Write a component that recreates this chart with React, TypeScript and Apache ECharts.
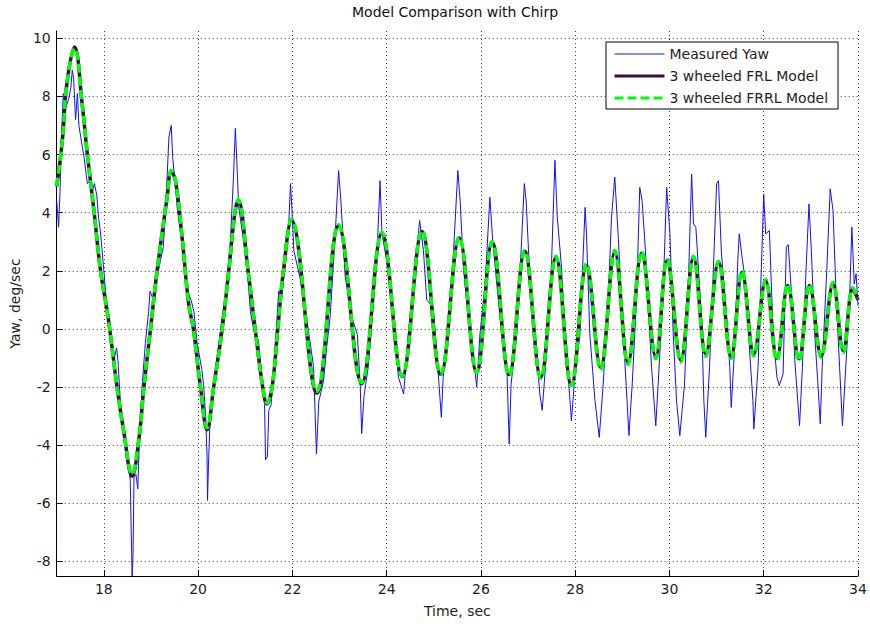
import React, { useEffect, useRef } from "react";
import * as echarts from "echarts";

const xTickValues = [18, 20, 22, 24, 26, 28, 30, 32, 34];
const yTickValues = [-8, -6, -4, -2, 0, 2, 4, 6, 8, 10];

const measuredTime = [
  17.0, 17.04, 17.07, 17.1, 17.14, 17.19, 17.26, 17.3, 17.33, 17.36, 17.4, 17.44, 17.47, 17.51, 17.58, 17.65, 17.7, 17.75, 17.8, 17.85,
  17.89, 17.93, 18.0, 18.08, 18.15, 18.2, 18.27, 18.3, 18.35, 18.45, 18.52, 18.56, 18.58, 18.6, 18.62, 18.64, 18.68, 18.72, 18.76, 18.82,
  18.88, 18.95, 18.98, 19.05, 19.12, 19.2, 19.26, 19.3, 19.35, 19.38, 19.43, 19.46, 19.52, 19.56, 19.66, 19.77, 19.85, 19.91, 19.98, 20.08,
  20.12, 20.16, 20.19, 20.2, 20.22, 20.25, 20.32, 20.4, 20.44, 20.5, 20.58, 20.68, 20.75, 20.79, 20.83, 20.86, 20.95, 21.04, 21.11, 21.18,
  21.28, 21.34, 21.41, 21.43, 21.47, 21.5, 21.55, 21.64, 21.71, 21.75, 21.85, 21.92, 21.96, 22.0, 22.03, 22.17, 22.34, 22.45, 22.51, 22.56,
  22.66, 22.73, 22.8, 22.91, 22.98, 23.03, 23.12, 23.26, 23.38, 23.44, 23.47, 23.52, 23.61, 23.72, 23.79, 23.86, 23.9, 24.0, 24.11, 24.18,
  24.25, 24.36, 24.46, 24.57, 24.7, 24.78, 24.85, 24.99, 25.06, 25.16, 25.2, 25.31, 25.42, 25.51, 25.56, 25.63, 25.73, 25.84, 25.91, 25.98,
  26.09, 26.19, 26.25, 26.33, 26.44, 26.55, 26.6, 26.64, 26.76, 26.86, 26.92, 26.96, 27.04, 27.15, 27.25, 27.3, 27.39, 27.5, 27.57, 27.62,
  27.71, 27.78, 27.89, 27.92, 27.98, 28.1, 28.21, 28.24, 28.31, 28.42, 28.51, 28.59, 28.7, 28.77, 28.84, 28.91, 29.02, 29.1, 29.14, 29.21,
  29.3, 29.37, 29.42, 29.49, 29.62, 29.71, 29.76, 29.86, 29.94, 30.01, 30.08, 30.15, 30.22, 30.32, 30.39, 30.47, 30.51, 30.56, 30.68, 30.73,
  30.77, 30.85, 30.92, 31.0, 31.04, 31.1, 31.21, 31.28, 31.31, 31.38, 31.45, 31.48, 31.55, 31.63, 31.7, 31.77, 31.79, 31.88, 31.95, 32.0,
  32.04, 32.12, 32.2, 32.28, 32.33, 32.41, 32.48, 32.52, 32.59, 32.66, 32.76, 32.82, 32.9, 32.96, 33.01, 33.08, 33.15, 33.2, 33.24, 33.34,
  33.41, 33.47, 33.54, 33.61, 33.67, 33.72, 33.82, 33.87, 33.92, 33.96, 34.0,
];
const measuredYaw = [
  4.4, 3.5, 4.7, 6.6, 8.1, 7.6, 7.95, 8.3, 8.9, 8.6, 7.2, 8.1, 7.0, 6.6, 5.9, 5.0, 5.1, 4.7, 5.0, 4.6,
  3.8, 3.3, 2.0, 0.4, -0.4, -1.2, -0.65, -1.1, -2.5, -3.8, -4.6, -5.2, -6.9, -8.5, -7.7, -5.1, -5.0, -5.5, -3.5, -1.8,
  -0.5, 0.6, 1.3, 1.0, 1.7, 2.35, 2.8, 3.8, 5.5, 6.6, 7.0, 5.9, 4.9, 4.1, 2.9, 1.3, 1.0, 0.6, -0.5, -1.4,
  -2.0, -3.0, -4.4, -5.9, -4.65, -3.3, -2.2, -1.0, -0.5, 0.3, 1.1, 2.9, 5.2, 6.9, 5.45, 4.2, 3.2, 2.1, 0.6, -0.06,
  -0.4, -1.4, -2.6, -4.5, -4.4, -2.8, -2.6, -0.5, 1.3, 0.8, 2.2, 3.5, 5.0, 3.8, 2.7, 1.7, -0.06, -1.3, -4.3, -2.5,
  -1.8, -0.6, 0.4, 3.3, 5.45, 4.4, 1.8, 0.4, -0.2, -2.0, -3.6, -2.3, -1.3, 1.0, 2.35, 5.1, 3.3, 2.35, 1.0, -0.4,
  -1.66, -2.24, -0.17, 1.55, 3.73, 2.7, 1.0, 0.74, -0.75, -3.04, -1.66, 0.06, 2.7, 5.45, 4.4, 2.1, 0.4, -0.86, -2.0, -0.17,
  1.55, 4.53, 3.04, 1.66, -0.17, -1.32, -3.96, -1.9, -0.17, 2.92, 5.0, 4.4, 1.66, -0.17, -2.24, -2.8, -0.86, 2.35, 5.8, 3.84,
  2.12, -0.17, -2.47, -3.16, -1.89, -0.17, 4.18, 3.27, -0.17, -2.47, -3.73, -2.0, 0.97, 3.84, 5.22, 3.27, -0.17, -2.47, -3.67, -1.89,
  0.97, 4.87, 4.41, 2.69, -1.32, -3.33, -1.9, 0.97, 4.87, 3.27, -0.17, -2.47, -3.67, -1.89, 0.97, 5.33, 3.61, 3.5, 0.4, -2.47,
  -3.73, -1.32, 1.55, 5.0, 5.1, 2.69, 0.4, -1.32, -2.7, -0.75, 2.35, 3.27, 2.35, 1.43, -0.75, -2.47, -3.44, -1.32, 2.12, 4.64,
  3.27, 3.38, -0.17, -1.66, -1.95, -1.55, 2.81, 2.9, 1.2, -1.09, -3.33, -1.32, 2.12, 4.3, 2.7, -0.17, -1.89, -3.27, -1.32, 2.12,
  4.82, 4.07, 0.97, -1.32, -3.33, -1.9, 0.97, 3.5, 1.55, 1.9, 0.8,
];

const frlTime = [
  17.0, 17.12, 17.22, 17.38, 17.54, 17.65, 17.79, 17.93, 18.09, 18.28, 18.42, 18.6, 18.74, 18.85, 18.99, 19.13, 19.34, 19.43, 19.52, 19.66,
  19.8, 19.9, 20.05, 20.19, 20.33, 20.51, 20.65, 20.78, 20.85, 21.06, 21.21, 21.37, 21.46, 21.57, 21.69, 21.81, 21.98, 22.52, 22.98, 23.47,
  23.9, 24.33, 24.75, 25.15, 25.54, 25.91, 26.24, 26.6, 26.93, 27.27, 27.59, 27.92, 28.24, 28.54, 28.84, 29.12, 29.41, 29.71, 29.95, 30.24,
  30.51, 30.77, 31.04, 31.31, 31.54, 31.79, 32.04, 32.28, 32.51, 32.75, 32.97, 33.22, 33.47, 33.69, 33.89, 34.0,
];
const frlYaw = [
  4.9, 6.5, 8.5, 9.7, 7.74, 6.0, 4.07, 2.0, 0.4, -2.0, -3.5, -5.07, -3.84, -2.0, 0.0, 2.0, 4.5, 5.41, 5.1, 3.15,
  0.86, 0.0, -2.0, -3.47, -2.0, 0.0, 2.0, 4.0, 4.43, 2.0, 0.0, -2.0, -2.58, -2.0, 0.0, 2.0, 3.75, -2.21, 3.55, -1.89,
  3.3, -1.64, 3.35, -1.57, 3.13, -1.49, 2.98, -1.57, 2.67, -1.66, 2.46, -1.92, 2.18, -1.32, 2.64, -1.15, 2.6, -0.95, 2.35, -1.07,
  2.46, -0.86, 2.29, -0.95, 1.95, -0.86, 1.66, -1.01, 1.49, -1.03, 1.49, -0.92, 1.55, -0.75, 1.38, 1.0,
];

const frrlTime = [
  17.0, 17.12, 17.22, 17.38, 17.54, 17.65, 17.79, 17.93, 18.09, 18.28, 18.42, 18.6, 18.74, 18.85, 18.99, 19.13, 19.34, 19.43, 19.52, 19.66,
  19.8, 19.9, 20.05, 20.19, 20.33, 20.51, 20.65, 20.78, 20.85, 21.06, 21.21, 21.37, 21.46, 21.57, 21.69, 21.81, 21.98, 22.52, 22.98, 23.47,
  23.9, 24.33, 24.75, 25.15, 25.54, 25.91, 26.24, 26.6, 26.93, 27.27, 27.59, 27.92, 28.24, 28.54, 28.84, 29.12, 29.41, 29.71, 29.95, 30.24,
  30.51, 30.77, 31.04, 31.31, 31.54, 31.79, 32.04, 32.28, 32.51, 32.75, 32.97, 33.22, 33.47, 33.69, 33.89, 34.0,
];
const frrlYaw = [
  4.9, 6.5, 8.5, 9.65, 7.74, 6.0, 4.07, 2.0, 0.4, -2.0, -3.5, -5.0, -3.84, -2.0, 0.0, 2.0, 4.5, 5.45, 5.1, 3.15,
  0.86, 0.0, -2.0, -3.4, -2.0, 0.0, 2.0, 4.0, 4.45, 2.0, 0.0, -2.0, -2.55, -2.0, 0.0, 2.0, 3.78, -2.15, 3.58, -1.85,
  3.33, -1.62, 3.38, -1.55, 3.16, -1.5, 3.0, -1.6, 2.7, -1.7, 2.5, -1.95, 2.24, -1.4, 2.7, -1.22, 2.66, -1.02, 2.4, -1.14,
  2.5, -0.94, 2.33, -1.02, 2.0, -0.93, 1.7, -1.08, 1.54, -1.1, 1.54, -0.98, 1.6, -0.82, 1.42, 1.05,
];

const FONT = "DejaVu Sans";
const TEXT_COLOR = "#1e1e1e";

function pairs(t: number[], v: number[]) {
  return t.map((x, i) => [x, v[i]]);
}

export default function App() {
  const ref = useRef<HTMLDivElement>(null);

  useEffect(() => {
    if (!ref.current) return;
    const chart = echarts.init(ref.current, null, { renderer: "svg" });
    const gridLine = { show: true, lineStyle: { color: "#3a3a3a", width: 1, type: [1, 3] as any } };
    chart.setOption({
      animation: false,
      backgroundColor: "#ffffff",
      title: {
        text: "Model Comparison with Chirp",
        left: 352,
        top: 5,
        padding: 0,
        textStyle: { fontFamily: FONT, fontSize: 14, fontWeight: "normal", color: "#111" },
      },
      legend: {
        orient: "vertical",
        left: 606,
        top: 42,
        itemWidth: 50,
        itemHeight: 14,
        itemGap: 8,
        padding: [5, 10, 4, 7],
        borderColor: "#000",
        borderWidth: 1,
        backgroundColor: "#fff",
        itemStyle: { opacity: 0 },
        textStyle: { fontFamily: FONT, fontSize: 14, color: TEXT_COLOR },
        data: [
          { name: "Measured Yaw", itemStyle: { opacity: 0 }, lineStyle: { width: 1, opacity: 1 } },
          { name: "3 wheeled FRL Model", itemStyle: { opacity: 0 }, lineStyle: { width: 3, opacity: 1 } },
          { name: "3 wheeled FRRL Model", itemStyle: { opacity: 0 }, lineStyle: { width: 3, opacity: 1 } },
        ],
      },
      grid: { left: 56, right: 12, top: 31, bottom: 48, containLabel: false },
      xAxis: {
        type: "value",
        min: 17,
        max: 34,
        name: "Time, sec",
        nameLocation: "middle",
        nameGap: 28,
        nameTextStyle: { fontFamily: FONT, fontSize: 14, color: TEXT_COLOR },
        axisLine: { show: true, onZero: false, lineStyle: { color: "#000", width: 1 } },
        axisTick: { show: true, inside: true, length: 6, customValues: xTickValues, lineStyle: { color: "#000" } },
        axisLabel: { customValues: xTickValues, margin: 6, fontFamily: FONT, fontSize: 14, color: TEXT_COLOR },
        splitLine: gridLine,
      },
      yAxis: {
        type: "value",
        min: -8.5,
        max: 10.25,
        name: "Yaw, deg/sec",
        nameLocation: "middle",
        nameGap: 27,
        nameTextStyle: { fontFamily: FONT, fontSize: 14, color: TEXT_COLOR },
        axisLine: { show: true, onZero: false, lineStyle: { color: "#000", width: 1 } },
        axisTick: { show: true, inside: true, length: 6, customValues: yTickValues, lineStyle: { color: "#000" } },
        axisLabel: { customValues: yTickValues, margin: 6, fontFamily: FONT, fontSize: 14, color: TEXT_COLOR },
        splitLine: gridLine,
      },
      series: [
        {
          name: "Measured Yaw",
          type: "line",
          data: pairs(measuredTime, measuredYaw),
          symbol: "none",
          showSymbol: false,
          lineStyle: { color: "#1010ff", width: 1 },
          itemStyle: { color: "#1010ff" },
        },
        {
          name: "3 wheeled FRL Model",
          type: "line",
          data: pairs(frlTime, frlYaw),
          symbol: "none",
          showSymbol: false,
          smooth: 0.4,
          lineStyle: { color: "#420c42", width: 3.5 },
          itemStyle: { color: "#420c42" },
        },
        {
          name: "3 wheeled FRRL Model",
          type: "line",
          data: pairs(frrlTime, frrlYaw),
          symbol: "none",
          showSymbol: false,
          smooth: 0.4,
          lineStyle: { color: "#00ff00", width: 3.5, type: [9, 4] as any },
          itemStyle: { color: "#00ff00" },
        },
      ],
    });
    return () => chart.dispose();
  }, []);

  return <div ref={ref} style={{ position: "fixed", left: 0, top: 0, width: 870, height: 624 }} />;
}
